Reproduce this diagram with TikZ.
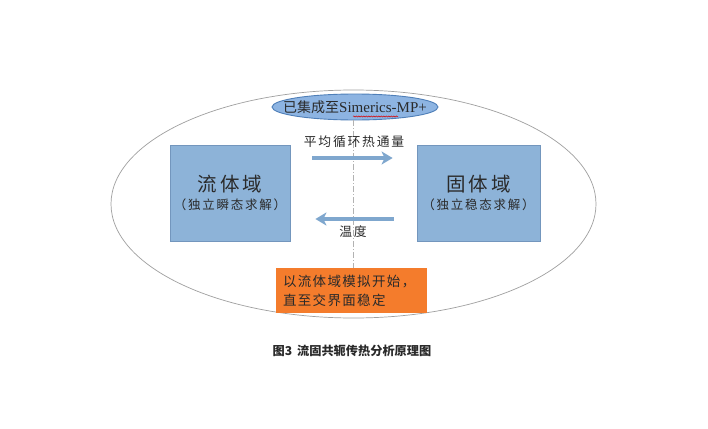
\documentclass[tikz,border=0pt]{standalone}
\usepackage{fontspec}
\setmainfont{Noto Sans CJK SC}
\newfontfamily\latinserif{Liberation Serif}
\newfontfamily\spaced[LetterSpace=14]{Noto Sans CJK SC}
\newfontfamily\spacedb[LetterSpace=10]{Noto Sans CJK SC}
\usetikzlibrary{arrows.meta,decorations.pathmorphing}
\definecolor{boxblue}{HTML}{8DB3D8}
\definecolor{boxedge}{HTML}{7396BD}
\definecolor{arrblue}{HTML}{7FA7CE}
\definecolor{ellblue}{HTML}{8DB4E2}
\definecolor{elledge}{HTML}{4F7FB8}
\definecolor{orangefill}{HTML}{F47C2C}
\definecolor{txt}{HTML}{2A2A2A}
\tikzset{
  domainbox/.style={draw=boxedge, line width=0.8pt, fill=boxblue, minimum width=120pt, minimum height=96pt, inner sep=0pt, align=center, text=txt},
  flow/.style={draw=arrblue, line width=3.2pt, -{Stealth[length=11pt,width=13pt,inset=3pt]}},
  lbl/.style={font=\spaced\fontsize{12.8}{14}\selectfont, text=txt, inner sep=0pt},
}
\begin{document}
\begin{tikzpicture}[x=1pt,y=-1pt]
\useasboundingbox (0,0) rectangle (708,428);
\fill[white] (0,0) rectangle (708,428);
% big ellipse
\draw[gray!75, line width=0.7pt] (353.5,204) ellipse [x radius=242.5, y radius=114];
% small ellipse
\draw[elledge, line width=0.9pt, fill=ellblue] (355,107) ellipse [x radius=83, y radius=13];
\node (E) [inner sep=0pt, minimum width=166pt, minimum height=26pt, text=txt] at (355,107)
  {\fontsize{14}{15}\selectfont 已集成至{\latinserif\fontsize{15}{15}\selectfont Simerics-MP+}};
\draw[red!85!black, line width=0.5pt, decorate, decoration={snake, amplitude=0.6pt, segment length=2.5pt}] (353,116.5) -- (398,116.5);
% domain boxes
\node (L) [domainbox] at (230,193) {{\fontsize{19.5}{24}\selectfont 流\,体\,域}\\[5pt]{\spaced\fontsize{12.5}{15}\selectfont （独立瞬态求解）}};
\node (R) [domainbox, minimum width=123pt] at (478.5,193) {{\fontsize{19.5}{24}\selectfont 固\,体\,域}\\[5pt]{\spaced\fontsize{12.5}{15}\selectfont （独立稳态求解）}};
% orange box
\node (O) [fill=orangefill, minimum width=151pt, minimum height=45pt, inner sep=0pt, text=txt] at (351.5,290.5) {};
\node (Otext) [anchor=west, inner sep=0pt, align=left, text=txt, font=\spacedb\fontsize{13.5}{19}\selectfont] at ([xshift=7pt]O.west)
  {以流体域模拟开始，\\直至交界面稳定};
% dash-dot line
\draw[gray!60, line width=0.6pt, dash pattern=on 6pt off 2pt on 1pt off 2pt] (353,120) -- (O.north -| 353,0);
% arrows
\draw[flow, shorten <=22pt, shorten >=24pt] ([yshift=35pt]L.east) -- ([yshift=35pt]R.west);
\draw[flow, shorten <=23pt, shorten >=25pt] ([yshift=-26pt]R.west) -- ([yshift=-26pt]L.east);
\node (t1) [lbl] at (354,142) {平均循环热通量};
\node (t2) [lbl] at (353,232) {温度};
% caption
\node (cap) [inner sep=0pt, font=\bfseries\fontsize{12.2}{13}\selectfont, text=txt] at (352,351) {图3\, 流固共轭传热分析原理图};
\end{tikzpicture}
\end{document}
